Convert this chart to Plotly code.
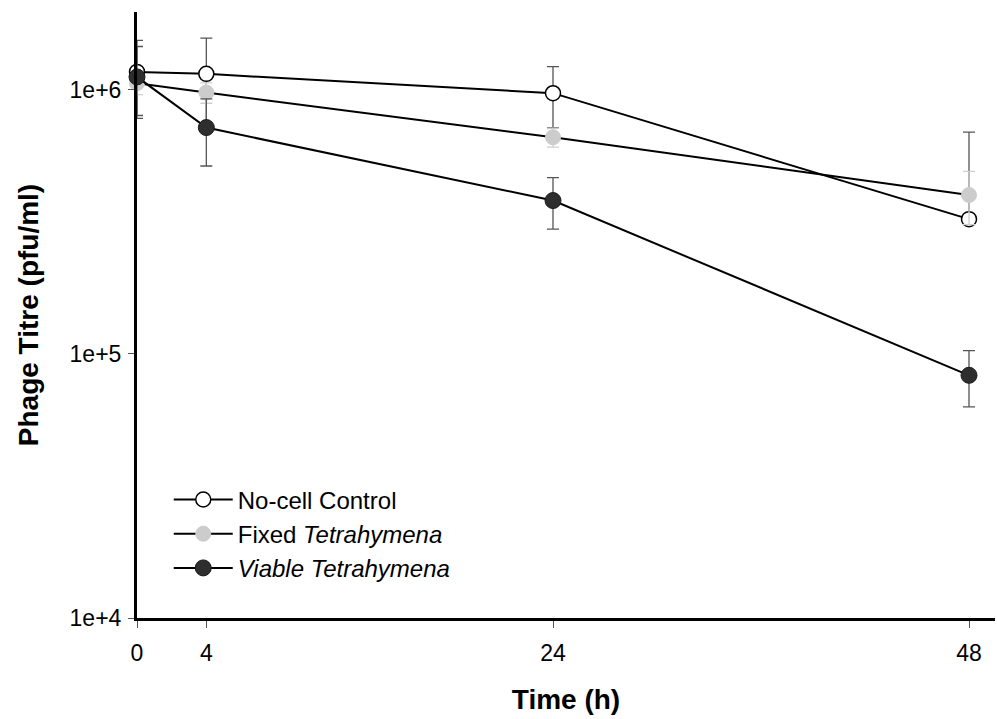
import plotly.graph_objects as go

# Sampling times (h)
time_h = [0, 4, 24, 48]

# Mean phage titre (pfu/ml) and standard deviations per treatment
control_mean = [1.17e6, 1.15e6, 9.72e5, 3.24e5]
control_sd_up = [3.7e5, 4.2e5, 2.53e5, 3.68e5]
control_sd_down = [3.7e5, 4.2e5, 2.53e5, 0.0]

fixed_mean = [1.06e6, 9.77e5, 6.62e5, 4.0e5]
fixed_sd = [1.0e5, 8.7e4, 5.5e4, 9.1e4]

viable_mean = [1.12e6, 7.2e5, 3.81e5, 8.3e4]
viable_sd = [3.4e5, 2.05e5, 8.4e4, 2.0e4]

y_tickvals = [1e4, 1e5, 1e6]
y_ticktext = ["1e+4", "1e+5", "1e+6"]
x_tickvals = [0, 4, 24, 48]

FONT = "Liberation Sans, Arial, sans-serif"

fig = go.Figure()

fig.add_trace(go.Scatter(
    x=time_h, y=control_mean, mode="lines+markers",
    name="No-cell Control",
    line=dict(color="black", width=2),
    marker=dict(symbol="circle", size=15, color="white",
                line=dict(color="black", width=1.5)),
    error_y=dict(type="data", symmetric=False, array=control_sd_up,
                 arrayminus=control_sd_down, color="#555555",
                 thickness=1.3, width=6),
    cliponaxis=False,
))

fig.add_trace(go.Scatter(
    x=time_h, y=fixed_mean, mode="lines+markers",
    name="Fixed <i>Tetrahymena</i>",
    line=dict(color="black", width=2),
    marker=dict(symbol="circle", size=15, color="#cccccc",
                line=dict(color="#cccccc", width=1)),
    error_y=dict(type="data", array=fixed_sd, color="#cfcfcf",
                 thickness=1.3, width=6),
    cliponaxis=False,
))

fig.add_trace(go.Scatter(
    x=time_h, y=viable_mean, mode="lines+markers",
    name="<i>Viable Tetrahymena</i>",
    line=dict(color="black", width=2),
    marker=dict(symbol="circle", size=16, color="#2e2e2e",
                line=dict(color="#1a1a1a", width=1)),
    error_y=dict(type="data", array=viable_sd, color="#555555",
                 thickness=1.3, width=6),
    cliponaxis=False,
))

fig.update_layout(
    width=997, height=719,
    margin=dict(l=137, r=2, t=12, b=101),
    paper_bgcolor="white", plot_bgcolor="white",
    font=dict(family=FONT, color="black"),
    showlegend=True,
    legend=dict(
        x=0.037, y=0.232, xanchor="left", yanchor="top",
        bgcolor="rgba(0,0,0,0)", borderwidth=0,
        font=dict(family=FONT, size=24, color="black"),
        itemwidth=59, tracegroupgap=0,
    ),
)

fig.update_xaxes(
    range=[0, 49.5], tickvals=x_tickvals,
    showgrid=False, zeroline=False,
    showline=True, linecolor="black", linewidth=3,
    ticks="outside", ticklen=7, tickwidth=1, tickcolor="#555555",
    ticklabelstandoff=5,
    tickfont=dict(family=FONT, size=23, color="black"),
    title=dict(text="<b>Time (h)</b>", standoff=25,
               font=dict(family=FONT, size=28, color="black")),
)

fig.update_yaxes(
    type="log", range=[4, 6.295],
    tickvals=y_tickvals, ticktext=y_ticktext,
    showgrid=False, zeroline=False,
    showline=True, linecolor="black", linewidth=3,
    ticks="outside", ticklen=6, tickwidth=1, tickcolor="#555555",
    ticklabelstandoff=2,
    tickfont=dict(family=FONT, size=23, color="black"),
    title=dict(text="<b>Phage Titre (pfu/ml)</b>", standoff=23,
               font=dict(family=FONT, size=28, color="black")),
)

fig.write_html("out.html")
